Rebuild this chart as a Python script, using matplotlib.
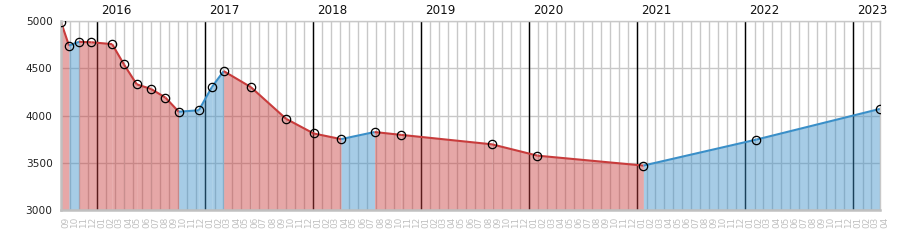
import matplotlib
matplotlib.use('Agg')
import matplotlib.pyplot as plt
import matplotlib.dates as mdates
import pandas as pd

dates = ['2015-09-01', '2015-09-28', '2015-11-01', '2015-12-13', '2016-02-21',
         '2016-04-01', '2016-05-14', '2016-07-02', '2016-08-19', '2016-10-03',
         '2016-12-10', '2017-01-23', '2017-03-04', '2017-06-04', '2017-10-01',
         '2018-01-02', '2018-04-05', '2018-07-27', '2018-10-25', '2019-08-28',
         '2020-01-29', '2021-01-21', '2022-02-07', '2023-04-01']
values = [4990, 4740, 4780, 4775, 4755,
          4540, 4330, 4280, 4190, 4040,
          4055, 4300, 4470, 4300, 3965,
          3810, 3750, 3825, 3795, 3695,
          3575, 3470, 3745, 4070]
years = [2016, 2017, 2018, 2019, 2020, 2021, 2022, 2023]

x = pd.to_datetime(dates)
y_min, y_max = 3000, 5000

red = '#c83c3c'
blue = '#3a8fc8'
grid_col = '#c8c8c8'

fig = plt.figure(figsize=(9, 2.5), dpi=100)
ax = fig.add_axes([61 / 900, 1 - 210 / 250, (880 - 61) / 900, (210 - 21) / 250])

# month / value grid under everything
ax.xaxis.set_major_locator(mdates.MonthLocator())
ax.xaxis.set_major_formatter(mdates.DateFormatter('%m'))
ax.set_yticks([3000, 3500, 4000, 4500, 5000])
ax.grid(True, color=grid_col, lw=1.0, zorder=0)
ax.set_axisbelow(True)

for yr in years:
    d = pd.Timestamp(f'{yr}-01-01')
    ax.axvline(d, color='black', lw=1.0, zorder=0.9)
    ax.annotate(str(yr), xy=(d, 1), xycoords=('data', 'axes fraction'),
                xytext=(4, 4), textcoords='offset pixels',
                ha='left', va='bottom', fontsize=8.6, color='#111111')

# segments coloured by direction
for i in range(len(x) - 1):
    c = blue if values[i + 1] > values[i] else red
    xs = [x[i], x[i + 1]]
    ys = [values[i], values[i + 1]]
    ax.fill_between(xs, ys, y_min, color=c, alpha=0.45, lw=0, zorder=1)
    ax.plot(xs, ys, color=c, lw=1.5, zorder=2, solid_capstyle='butt')

ax.plot(x, values, ls='none', marker='o', ms=6, mfc='none', mec='black',
        mew=0.9, zorder=3)

ax.set_xlim(x[0], x[-1])
ax.set_ylim(y_min, y_max)

ax.tick_params(axis='x', length=0, pad=5, labelsize=6.4, labelcolor='#c0c0c0',
               labelrotation=90)
for lab in ax.get_xticklabels():
    lab.set_ha('left')
ax.tick_params(axis='y', length=0, pad=6, labelsize=7.6, labelcolor='#222222')

for side in ['left', 'bottom']:
    ax.spines[side].set_color('#c0c0c0')
    ax.spines[side].set_linewidth(1.8)
for side in ['top', 'right']:
    ax.spines[side].set_color(grid_col)
    ax.spines[side].set_linewidth(1.0)

fig.savefig('out.png', dpi=100)
